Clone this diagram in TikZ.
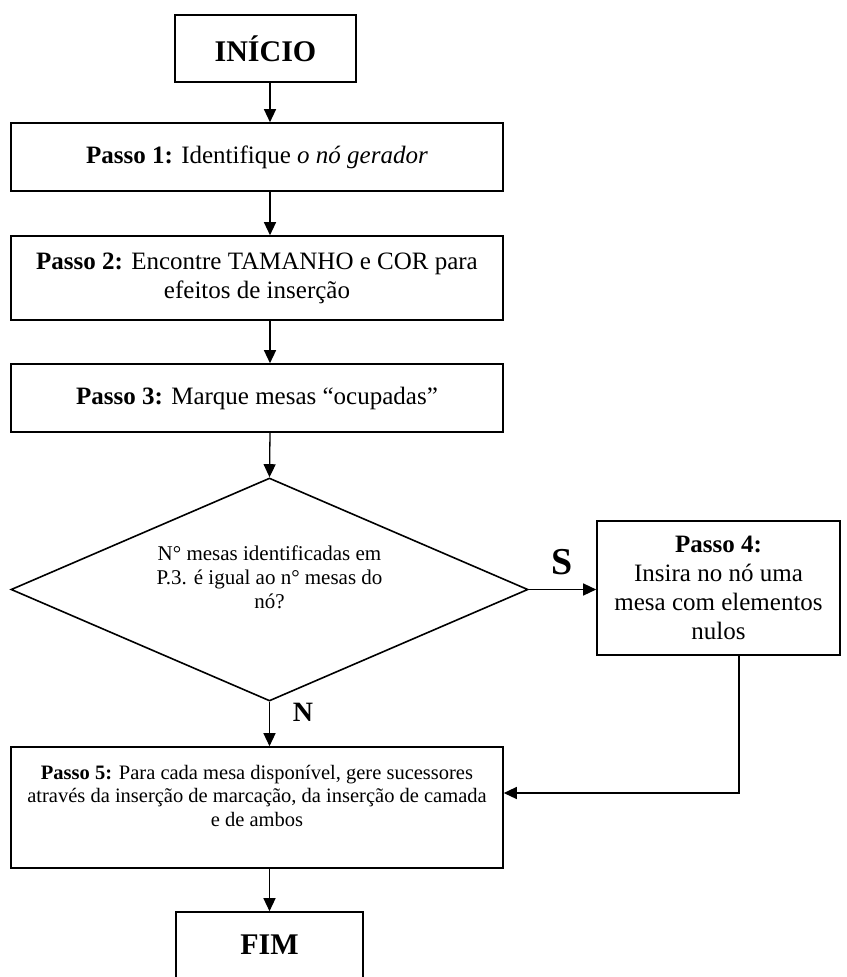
\documentclass[tikz,border=0pt]{standalone}
\usepackage{fontspec}
\setmainfont{Liberation Serif}
\usetikzlibrary{shapes.geometric,arrows.meta}

\tikzset{
  stepbox/.style={draw=black,line width=1.6pt,rectangle,align=center,inner sep=0pt,
    font=\fontsize{25}{29}\selectfont},
  endbox/.style={stepbox,font=\fontsize{30}{34}\selectfont\bfseries},
  smallbox/.style={stepbox,font=\fontsize{20.5}{23.5}\selectfont},
  decision/.style={draw=black,line width=1.6pt,diamond,aspect=2.32,align=center,inner sep=0pt,
    font=\fontsize{21}{24}\selectfont},
  flow/.style={draw=black,line width=1.3pt,-{Triangle[length=13pt,width=12pt]}},
  answer/.style={inner sep=0pt,font=\fontsize{#1}{#1}\selectfont\bfseries}
}

\begin{document}
\begin{tikzpicture}[x=1pt,y=-1pt]
\path[use as bounding box] (0,0) rectangle (846,977);
\clip (0,0) rectangle (846,977);

% spine of the chart and the return corner
\coordinate (spine) at (270,0);
\coordinate (back) at (739,793);

\node[endbox,minimum width=181pt,minimum height=67pt] (ini) at (265.5,48.5) {INÍCIO};

\node[stepbox,minimum width=492pt,minimum height=68pt] (p1) at (257,157)
  {\textbf{Passo 1:} Identifique \textit{o nó gerador}};

\node[stepbox,minimum width=492pt,minimum height=84pt] (p2) at (257,278)
  {\textbf{Passo 2:} Encontre TAMANHO e COR para\\ efeitos de inserção};

\node[stepbox,minimum width=492pt,minimum height=68pt] (p3) at (257,398)
  {\textbf{Passo 3:} Marque mesas “ocupadas”};

\node[decision,minimum width=517pt,minimum height=223pt] (dec) at (269.5,589.5)
  {N° mesas identificadas em\\ P.3. é igual ao n° mesas do\\ nó?\\ \mbox{}};

\node[stepbox,minimum width=243pt,minimum height=134pt] (p4) at (718.5,588)
  {\textbf{Passo 4:}\\ Insira no nó uma\\ mesa com elementos\\ nulos};

\node[smallbox,minimum width=492pt,minimum height=121pt] (p5) at (257,807.5)
  {\textbf{Passo 5:} Para cada mesa disponível, gere sucessores\\
   através da inserção de marcação, da inserção de camada\\
   e de ambos\\ \mbox{}};

\node[endbox,minimum width=187pt,minimum height=66pt] (fim) at (269.5,945) {FIM};

\node[answer=38] (yes) at (562,562) {S};
\node[answer=28] (no) at (303,712) {N};

% connectors
\draw[flow] (ini.south -| spine) -- (p1.north -| spine);
\draw[flow] (p1.south -| spine) -- (p2.north -| spine);
\draw[flow] (p2.south -| spine) -- (p3.north -| spine);
\draw[flow] (p3.south -| spine) -- (dec.north);
\draw[flow] (dec.east) -- (p4.west |- dec.east);
\draw[flow] (dec.south) -- (p5.north -| dec.south);
\draw[flow] (p4.south -| back) -- (back) -- (p5.east |- back);
\draw[flow] (p5.south -| fim.north) -- (fim.north);
\end{tikzpicture}
\end{document}
